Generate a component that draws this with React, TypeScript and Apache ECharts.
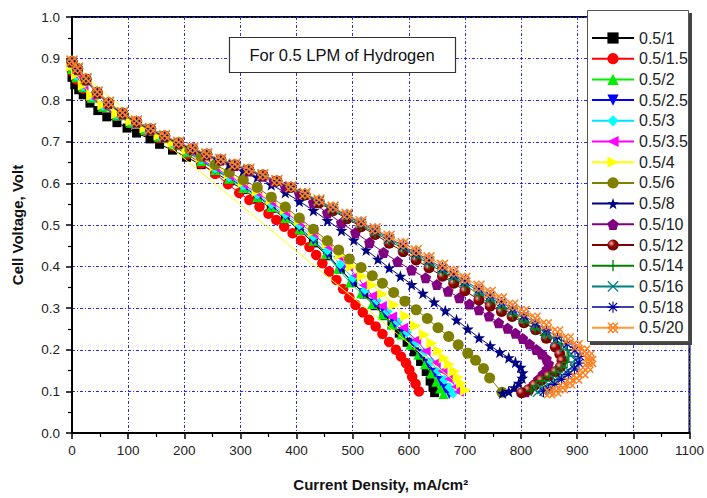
import React, { useEffect, useRef } from "react";
import * as echarts from "echarts";

const seriesNames = ["0.5/1", "0.5/1.5", "0.5/2", "0.5/2.5", "0.5/3", "0.5/3.5", "0.5/4", "0.5/6", "0.5/8", "0.5/10", "0.5/12", "0.5/14", "0.5/16", "0.5/18", "0.5/20"];
const xTicks = [0, 100, 200, 300, 400, 500, 600, 700, 800, 900, 1000, 1100];
const yTicks = [0, 0.1, 0.2, 0.3, 0.4, 0.5, 0.6, 0.7, 0.8, 0.9, 1.0];

const d1 = [[0,0.855],[5,0.837],[12,0.825],[20,0.813],[32,0.793],[46,0.775],[62,0.76],[80,0.746],[98,0.733],[115,0.721],[139,0.707],[156,0.694],[179,0.68],[204,0.663],[230,0.645],[255,0.626],[280,0.605],[305,0.585],[330,0.562],[355,0.54],[380,0.516],[405,0.488],[430,0.457],[455,0.426],[478,0.394],[500,0.362],[520,0.334],[540,0.306],[556,0.282],[570,0.26],[583,0.24],[597,0.218],[610,0.195],[621,0.172],[631,0.148],[638,0.125],[643,0.11],[646,0.097]];
const d1_5 = [[0,0.87],[8,0.85],[20,0.828],[35,0.805],[55,0.783],[80,0.762],[105,0.745],[130,0.727],[155,0.709],[180,0.69],[205,0.67],[230,0.648],[255,0.623],[278,0.598],[298,0.577],[316,0.56],[334,0.544],[350,0.527],[364,0.512],[378,0.496],[393,0.48],[408,0.463],[423,0.447],[435,0.428],[446,0.408],[458,0.388],[471,0.368],[483,0.346],[494,0.326],[505,0.308],[518,0.29],[529,0.272],[541,0.256],[553,0.238],[565,0.219],[577,0.2],[586,0.184],[595,0.168],[601,0.152],[606,0.135],[612,0.118],[618,0.1]];
const d2 = [[0,0.875],[8,0.855],[20,0.831],[35,0.806],[55,0.784],[80,0.763],[105,0.746],[130,0.729],[155,0.712],[180,0.694],[205,0.675],[230,0.654],[255,0.632],[280,0.611],[305,0.589],[330,0.567],[355,0.543],[380,0.517],[405,0.49],[430,0.462],[452,0.43],[474,0.395],[495,0.362],[515,0.336],[535,0.31],[553,0.285],[570,0.261],[587,0.237],[603,0.212],[617,0.188],[629,0.165],[640,0.143],[649,0.123],[656,0.107],[662,0.094]];
const d2_5 = [[0,0.877],[8,0.857],[20,0.832],[35,0.807],[55,0.785],[80,0.764],[105,0.747],[130,0.73],[155,0.713],[180,0.695],[205,0.676],[230,0.656],[255,0.634],[280,0.613],[305,0.592],[330,0.57],[355,0.546],[380,0.521],[405,0.494],[430,0.464],[455,0.43],[478,0.394],[500,0.362],[520,0.336],[540,0.311],[558,0.287],[575,0.263],[592,0.239],[608,0.214],[622,0.19],[635,0.167],[647,0.145],[657,0.125],[665,0.107],[672,0.094]];
const d3 = [[0,0.878],[8,0.858],[20,0.833],[35,0.808],[55,0.786],[80,0.765],[105,0.748],[130,0.731],[155,0.714],[180,0.696],[205,0.677],[230,0.657],[255,0.636],[280,0.615],[305,0.594],[330,0.573],[355,0.55],[380,0.526],[405,0.5],[430,0.471],[455,0.439],[478,0.405],[500,0.372],[522,0.344],[543,0.318],[562,0.292],[580,0.267],[597,0.242],[613,0.218],[627,0.194],[640,0.171],[652,0.149],[663,0.128],[672,0.11],[679,0.095]];
const d3_5 = [[0,0.88],[8,0.86],[20,0.834],[35,0.809],[55,0.787],[80,0.766],[105,0.749],[130,0.732],[155,0.715],[180,0.697],[205,0.679],[230,0.659],[255,0.638],[280,0.618],[305,0.598],[330,0.577],[355,0.555],[380,0.531],[405,0.506],[430,0.479],[455,0.449],[475,0.424],[492,0.4],[506,0.378],[520,0.355],[535,0.33],[552,0.305],[570,0.28],[590,0.253],[613,0.224],[630,0.197],[648,0.169],[660,0.149],[672,0.13],[684,0.111],[689,0.099]];
const d4 = [[701,0.103],[0,0.882],[8,0.862],[20,0.836],[35,0.811],[55,0.789],[80,0.768],[105,0.75],[130,0.733],[155,0.716],[180,0.699],[205,0.681],[230,0.662],[255,0.642],[280,0.622],[305,0.602],[330,0.581],[355,0.56],[380,0.537],[405,0.511],[430,0.484],[455,0.456],[478,0.428],[498,0.401],[517,0.377],[535,0.356],[553,0.334],[574,0.308],[595,0.281],[612,0.258],[628,0.236],[641,0.216],[653,0.197],[663,0.18],[672,0.165],[681,0.149],[688,0.134],[694,0.119],[701,0.103]];
const d6 = [[0,0.89],[10,0.872],[25,0.847],[45,0.815],[65,0.79],[90,0.765],[115,0.745],[140,0.727],[165,0.71],[190,0.693],[210,0.68],[230,0.664],[255,0.645],[280,0.627],[305,0.609],[330,0.59],[355,0.567],[380,0.543],[405,0.517],[430,0.49],[455,0.462],[475,0.44],[494,0.418],[515,0.398],[535,0.378],[553,0.36],[573,0.338],[593,0.317],[613,0.296],[633,0.275],[652,0.253],[671,0.232],[688,0.212],[705,0.192],[719,0.175],[733,0.155],[744,0.132],[766,0.098]];
const d8 = [[0,0.892],[10,0.874],[25,0.849],[45,0.817],[65,0.792],[90,0.767],[115,0.747],[140,0.729],[165,0.712],[190,0.696],[215,0.681],[240,0.667],[260,0.657],[280,0.646],[305,0.631],[330,0.615],[355,0.597],[380,0.578],[405,0.557],[430,0.535],[455,0.511],[480,0.487],[502,0.464],[524,0.44],[545,0.418],[565,0.397],[585,0.377],[605,0.357],[625,0.336],[645,0.315],[665,0.294],[685,0.272],[705,0.25],[725,0.229],[745,0.21],[762,0.194],[778,0.181],[790,0.17],[799,0.158],[803,0.145],[802,0.132],[796,0.12],[788,0.109],[778,0.1],[767,0.096]];
const d10 = [[0,0.893],[10,0.875],[25,0.85],[45,0.818],[65,0.793],[90,0.768],[115,0.748],[140,0.73],[165,0.713],[190,0.697],[215,0.683],[240,0.669],[265,0.656],[290,0.643],[315,0.63],[340,0.617],[360,0.605],[380,0.592],[405,0.575],[430,0.553],[455,0.529],[480,0.505],[505,0.482],[530,0.458],[555,0.434],[580,0.412],[605,0.392],[630,0.373],[650,0.357],[670,0.341],[690,0.325],[708,0.31],[725,0.296],[743,0.281],[760,0.265],[776,0.252],[790,0.24],[803,0.227],[815,0.214],[827,0.201],[837,0.19],[845,0.178],[849,0.166],[846,0.153],[839,0.141],[831,0.129],[823,0.117],[815,0.106],[808,0.099]];
const d12 = [[0,0.893],[10,0.876],[25,0.851],[45,0.819],[65,0.794],[90,0.769],[115,0.749],[140,0.731],[165,0.714],[190,0.698],[215,0.684],[240,0.67],[265,0.657],[290,0.645],[315,0.633],[340,0.62],[365,0.606],[390,0.59],[415,0.572],[440,0.553],[465,0.534],[490,0.515],[515,0.496],[540,0.477],[565,0.456],[590,0.436],[613,0.416],[636,0.397],[660,0.377],[680,0.36],[700,0.342],[725,0.32],[745,0.305],[765,0.292],[784,0.28],[805,0.265],[826,0.248],[845,0.228],[861,0.207],[869,0.19],[873,0.174],[870,0.159],[861,0.147],[849,0.137],[836,0.127],[824,0.115],[813,0.104],[801,0.097]];
const d14 = [[0,0.893],[10,0.876],[25,0.851],[45,0.819],[65,0.794],[90,0.769],[115,0.749],[140,0.731],[165,0.714],[190,0.698],[215,0.684],[240,0.67],[265,0.657],[290,0.645],[315,0.633],[340,0.62],[365,0.606],[390,0.59],[415,0.573],[440,0.555],[465,0.536],[490,0.518],[515,0.499],[540,0.481],[565,0.462],[590,0.443],[613,0.425],[636,0.406],[660,0.387],[680,0.371],[700,0.355],[725,0.334],[745,0.318],[765,0.301],[785,0.285],[805,0.268],[825,0.25],[843,0.235],[858,0.228],[872,0.215],[882,0.2],[885,0.185],[882,0.17],[873,0.157],[862,0.146],[850,0.136],[838,0.125],[827,0.113],[818,0.102]];
const d16 = [[0,0.893],[10,0.876],[25,0.851],[45,0.819],[65,0.794],[90,0.769],[115,0.749],[140,0.731],[165,0.714],[190,0.698],[215,0.684],[240,0.67],[265,0.657],[290,0.645],[315,0.633],[340,0.62],[365,0.606],[390,0.591],[415,0.574],[440,0.557],[465,0.539],[490,0.521],[515,0.503],[540,0.485],[565,0.466],[590,0.447],[613,0.43],[636,0.412],[660,0.393],[680,0.377],[700,0.361],[725,0.341],[745,0.325],[765,0.309],[785,0.292],[805,0.275],[825,0.257],[845,0.238],[862,0.222],[877,0.206],[889,0.19],[896,0.176],[893,0.162],[884,0.15],[873,0.138],[861,0.127],[849,0.116],[838,0.106],[830,0.099]];
const d18 = [[0,0.893],[10,0.876],[25,0.851],[45,0.819],[65,0.794],[90,0.769],[115,0.749],[140,0.731],[165,0.714],[190,0.698],[215,0.684],[240,0.67],[265,0.657],[290,0.645],[315,0.633],[340,0.62],[365,0.606],[390,0.591],[415,0.575],[440,0.558],[465,0.541],[490,0.523],[515,0.505],[540,0.488],[565,0.469],[590,0.45],[613,0.433],[636,0.416],[660,0.397],[680,0.381],[700,0.365],[725,0.346],[745,0.33],[765,0.314],[785,0.298],[805,0.282],[825,0.265],[845,0.248],[865,0.23],[882,0.214],[896,0.199],[905,0.184],[903,0.168],[895,0.154],[884,0.141],[872,0.129],[860,0.117],[849,0.106],[840,0.099]];
const d20 = [[0,0.894],[10,0.877],[25,0.852],[45,0.82],[65,0.795],[90,0.77],[115,0.75],[140,0.732],[165,0.715],[190,0.699],[215,0.685],[240,0.671],[265,0.658],[290,0.646],[315,0.634],[340,0.621],[365,0.607],[390,0.592],[415,0.576],[440,0.56],[465,0.543],[490,0.526],[515,0.508],[540,0.491],[565,0.473],[590,0.455],[613,0.438],[636,0.421],[660,0.403],[680,0.388],[700,0.372],[725,0.353],[745,0.338],[765,0.322],[785,0.307],[805,0.292],[825,0.276],[845,0.26],[865,0.243],[884,0.226],[900,0.21],[913,0.197],[921,0.185],[924,0.172],[919,0.158],[910,0.145],[899,0.132],[887,0.12],[874,0.109],[862,0.101],[851,0.097]];

const seriesData = [d1, d1_5, d2, d2_5, d3, d3_5, d4, d6, d8, d10, d12, d14, d16, d18, d20];

const SYM_TRI_DOWN = "path://M0,0 L10,0 L5,9 Z";
const SYM_TRI_LEFT = "path://M10,0 L10,10 L1,5 Z";
const SYM_TRI_RIGHT = "path://M0,0 L0,10 L9,5 Z";
const SYM_STAR = "path://M5,0 L6.18,3.45 L9.76,3.45 L6.9,5.59 L7.94,9.05 L5,7 L2.06,9.05 L3.1,5.59 L0.24,3.45 L3.82,3.45 Z";
const SYM_PENT = "path://M5,0 L10,3.6 L8.1,9.5 L1.9,9.5 L0,3.6 Z";
const SYM_PLUS = "path://M4.4,0 L5.6,0 L5.6,4.4 L10,4.4 L10,5.6 L5.6,5.6 L5.6,10 L4.4,10 L4.4,5.6 L0,5.6 L0,4.4 L4.4,4.4 Z";
const SYM_X = "path://M0,0.8 L0.8,0 L5,4.2 L9.2,0 L10,0.8 L5.8,5 L10,9.2 L9.2,10 L5,5.8 L0.8,10 L0,9.2 L4.2,5 Z";
const SYM_AST = "path://M4.5,0 L5.5,0 L5.5,4.5 L10,4.5 L10,5.5 L5.5,5.5 L5.5,10 L4.5,10 L4.5,5.5 L0,5.5 L0,4.5 L4.5,4.5 Z M1,1.7 L1.7,1 L5,4.3 L8.3,1 L9,1.7 L5.7,5 L9,8.3 L8.3,9 L5,5.7 L1.7,9 L1,8.3 L4.3,5 Z";
const SYM_CROSSX = "path://M5,0 L10,5 L5,10 L0,5 Z M5,1.6 L1.6,5 L5,8.4 L8.4,5 Z M0,0.9 L0.9,0 L5,4.1 L9.1,0 L10,0.9 L5.9,5 L10,9.1 L9.1,10 L5,5.9 L0.9,10 L0,9.1 L4.1,5 Z";

const styles = [
  { symbol: "rect", color: "#000000", line: "#000000", size: 9 },
  { symbol: "circle", color: "#ff0000", line: "#ff0000", size: 10.5 },
  { symbol: "triangle", color: "#00ee00", line: "#00ee00", size: 10 },
  { symbol: SYM_TRI_DOWN, color: "#0000ff", line: "#0000ff", size: 10 },
  { symbol: "diamond", color: "#00ffff", line: "#00e0ff", size: 10 },
  { symbol: SYM_TRI_LEFT, color: "#ff00ff", line: "#ff00ff", size: 10 },
  { symbol: SYM_TRI_RIGHT, color: "#ffff00", line: "#ffff00", size: 11 },
  { symbol: "circle", color: "#808000", line: "#808000", size: 11 },
  { symbol: SYM_STAR, color: "#000080", line: "#000080", size: 12 },
  { symbol: SYM_PENT, color: "#800080", line: "#800080", size: 11 },
  { symbol: "circle", color: { type: "radial", x: 0.35, y: 0.35, r: 0.7, colorStops: [{ offset: 0, color: "#f0b0b0" }, { offset: 0.45, color: "#900000" }, { offset: 1, color: "#700000" }] }, line: "#800000", size: 11 },
  { symbol: SYM_PLUS, color: "#008000", line: "#008000", size: 11 },
  { symbol: SYM_X, color: "#008080", line: "#008080", size: 11 },
  { symbol: SYM_AST, color: "#0000a0", line: "#4040b0", size: 11 },
  { symbol: SYM_CROSSX, color: "#ff8020", line: "#ff9933", size: 12 },
];

const FONT = "'Liberation Sans', Arial, Helvetica, sans-serif";

export default function App() {
  const ref = useRef<HTMLDivElement>(null);
  useEffect(() => {
    if (!ref.current) return;
    const chart = echarts.init(ref.current, null, { renderer: "svg" });
    const series = seriesNames.map((name, i) => ({
      name,
      type: "line",
      data: seriesData[i],
      symbol: styles[i].symbol,
      symbolSize: styles[i].size,
      showSymbol: true,
      itemStyle: { color: styles[i].color, borderWidth: 0 },
      lineStyle: { color: styles[i].line, width: 1 },
      emphasis: { disabled: true },
      z: 2 + i * 0.01,
    }));
    chart.setOption({
      animation: false,
      backgroundColor: "#ffffff",
      textStyle: { fontFamily: FONT },
      grid: { left: 72, right: 16, top: 17, bottom: 65, show: true, borderColor: "#000", borderWidth: 2, backgroundColor: "transparent" },
      xAxis: {
        type: "value",
        min: xTicks[0],
        max: xTicks[xTicks.length - 1],
        interval: 100,
        name: "Current Density, mA/cm²",
        nameLocation: "middle",
        nameGap: 44,
        nameTextStyle: { fontFamily: FONT, fontSize: 15, fontWeight: "bold", color: "#111" },
        axisLine: { show: true, onZero: false, lineStyle: { color: "#000", width: 2 } },
        axisTick: { show: true, length: 6, lineStyle: { color: "#000", width: 1.5 } },
        minorTick: { show: true, splitNumber: 2, length: 4, lineStyle: { color: "#000", width: 1.2 } },
        axisLabel: { fontFamily: FONT, fontSize: 13.5, color: "#222", margin: 10, formatter: (v: number) => String(v) },
        splitLine: { show: true, lineStyle: { color: "#2a2aff", width: 1, type: [3, 2, 1, 2] } },
      },
      yAxis: {
        type: "value",
        min: yTicks[0],
        max: yTicks[yTicks.length - 1],
        interval: 0.1,
        name: "Cell Voltage, Volt",
        nameLocation: "middle",
        nameGap: 47,
        nameTextStyle: { fontFamily: FONT, fontSize: 15, fontWeight: "bold", color: "#111" },
        axisLine: { show: true, onZero: false, lineStyle: { color: "#000", width: 2 } },
        axisTick: { show: true, length: 6, lineStyle: { color: "#000", width: 1.5 } },
        minorTick: { show: true, splitNumber: 2, length: 4, lineStyle: { color: "#000", width: 1.2 } },
        axisLabel: { fontFamily: FONT, fontSize: 13.5, color: "#222", margin: 12, formatter: (v: number) => v.toFixed(1) },
        splitLine: { show: true, lineStyle: { color: "#2a2aff", width: 1, type: [3, 2, 1, 2] } },
      },
      legend: {
        data: seriesNames,
        orient: "vertical",
        left: 591,
        top: 30,
        padding: 0,
        itemWidth: 42,
        itemHeight: 14,
        itemGap: 4.7,
        z: 6,
        textStyle: { fontFamily: FONT, fontSize: 16, color: "#222", lineHeight: 14 },
        selectedMode: false,
      },
      graphic: [
        { type: "rect", z: 5, shape: { x: 590, y: 13, width: 102, height: 332 }, style: { fill: "#444" } },
        { type: "rect", z: 5, shape: { x: 587.5, y: 10.5, width: 101, height: 331 }, style: { fill: "#fff", stroke: "#555", lineWidth: 1 } },
        { type: "rect", z: 5, shape: { x: 229.5, y: 37.5, width: 226, height: 35 }, style: { fill: "#fff", stroke: "#333", lineWidth: 1.2 } },
        { type: "text", z: 6, x: 342, y: 55, style: { text: "For 0.5 LPM of Hydrogen", fontFamily: FONT, fontSize: 16.5, fill: "#111", align: "center", verticalAlign: "middle" } },
      ],
      series,
    });
    return () => chart.dispose();
  }, []);
  return <div ref={ref} style={{ width: 707, height: 498, position: "absolute", left: 0, top: 0 }} />;
}
